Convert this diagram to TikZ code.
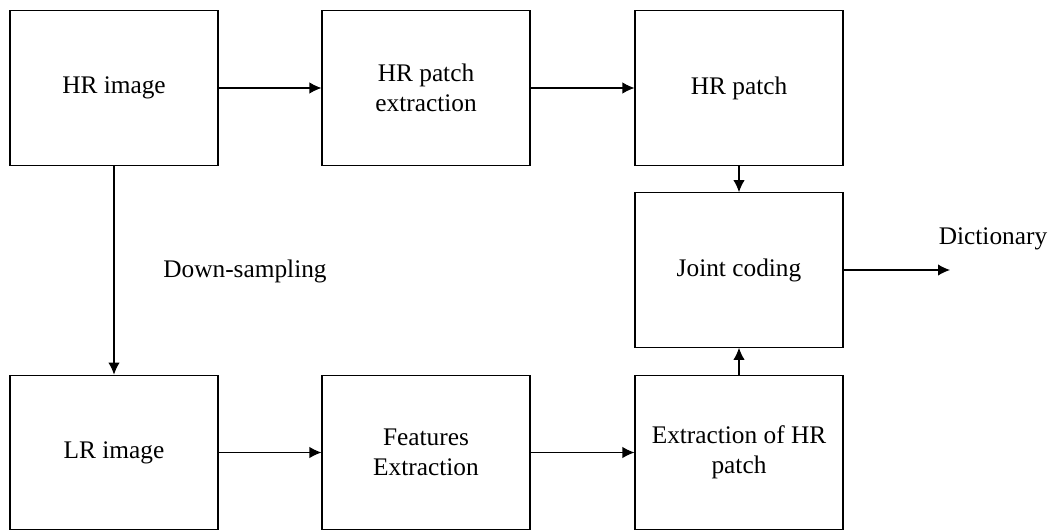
\documentclass[tikz,border=0pt]{standalone}
\usepackage{fontspec}
\setmainfont{Liberation Serif}
\usetikzlibrary{arrows.meta}

\begin{document}
\begin{tikzpicture}[x=0.75pt,y=-0.75pt,
    stage/.style={draw,line width=0.8pt,minimum width=156pt,minimum height=116pt,
      align=center,inner sep=0pt,font=\fontsize{19}{22.5}\selectfont},
    lbl/.style={font=\fontsize{19}{22.5}\selectfont,inner sep=0pt},
    flow/.style={line width=0.8pt,-{Latex[length=9pt,width=8.5pt]}}]
  \useasboundingbox (0,0) rectangle (1052,531);
  % top row
  \node[stage] (hrimg)  at (114,88) {HR image};
  \node[stage] (hrext)  at (426,88) {HR patch\\extraction};
  \node[stage] (hrpat)  at (739,88) {HR patch};
  % middle
  \node[stage] (joint)  at (739,270) {Joint coding};
  % bottom row
  \node[stage] (lrimg)  at (114,452.5) {LR image};
  \node[stage] (feat)   at (426,452.5) {Features\\Extraction};
  \node[stage] (exthr)  at (739,452.5) {Extraction of HR\\patch};
  \coordinate (dict) at (950,270);
  \node[lbl] (dictlbl) at (993,239) {Dictionary};
  \node[lbl] (down)    at (245,271) {Down-sampling};
  \draw[flow] (hrimg) -- (hrext);
  \draw[flow] (hrext) -- (hrpat);
  \draw[flow] (hrpat) -- (joint);
  \draw[flow] (exthr) -- (joint);
  \draw[flow] (hrimg) -- (lrimg);
  \draw[flow] (lrimg) -- (feat);
  \draw[flow] (feat) -- (exthr);
  \draw[flow] (joint) -- (dict);
\end{tikzpicture}
\end{document}
